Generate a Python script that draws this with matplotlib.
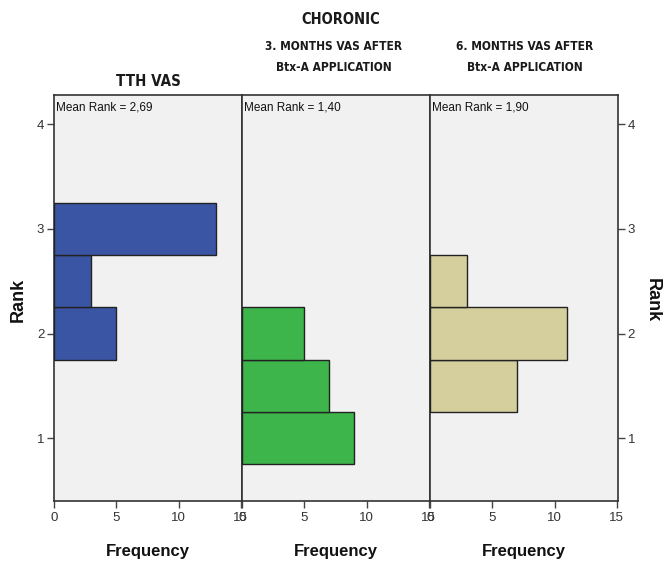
import matplotlib
matplotlib.use("Agg")
import matplotlib.pyplot as plt

# Data
rank_bins = [1.0, 1.5, 2.0, 2.5, 3.0]
freq_tth = [0, 0, 5, 3, 13]
freq_3m = [9, 7, 5, 0, 0]
freq_6m = [0, 7, 11, 3, 0]
panel_titles = ["TTH VAS", "3. MONTHS VAS AFTER\nBtx-A APPLICATION", "6. MONTHS VAS AFTER\nBtx-A APPLICATION"]
mean_labels = ["Mean Rank = 2,69", "Mean Rank = 1,40", "Mean Rank = 1,90"]
super_title = "CHORONIC"
colors = ["#3B55A5", "#3DB54A", "#D4CF9C"]
x_ticks = [0, 5, 10, 15]
y_ticks = [1, 2, 3, 4]

W, H = 664, 565
fig = plt.figure(figsize=(W / 100, H / 100), dpi=100)
fig.patch.set_facecolor("white")

left, top, bottom = 54, 95, 501
pw = 188
title_font = dict(family=["DejaVu Sans"], fontstretch="condensed", fontweight="bold", color="#1a1a1a")
tick_font = ["Liberation Sans", "DejaVu Sans"]

series = [freq_tth, freq_3m, freq_6m]
axes = []
for i, freqs in enumerate(series):
    ax = fig.add_axes([(left + i * pw) / W, 1 - bottom / H, pw / W, (bottom - top) / H])
    axes.append(ax)
    ax.set_facecolor("#F0F1F0")
    rb = [r for r, f in zip(rank_bins, freqs) if f > 0]
    fv = [f for f in freqs if f > 0]
    ax.barh(rb, fv, height=0.5, left=0, color=colors[i], edgecolor="#222222", linewidth=1.0, zorder=3)
    ax.set_xlim(0, 15.1)
    ax.set_ylim(0.4, 4.28)
    ax.set_xticks(x_ticks)
    ax.set_xticklabels([str(t) for t in x_ticks], fontfamily=tick_font, fontsize=9.5, color="#333333")
    ax.tick_params(axis="x", direction="out", length=5, width=1, color="#444444", pad=3)
    for s in ax.spines.values():
        s.set_color("#333333")
        s.set_linewidth(1.2)
    if i == 0:
        ax.set_yticks(y_ticks)
        ax.set_yticklabels([str(t) for t in y_ticks], fontfamily=tick_font, fontsize=9.5, color="#333333")
        ax.tick_params(axis="y", direction="out", length=5, width=1, color="#444444", pad=2)
    elif i == 2:
        ax.yaxis.tick_right()
        ax.set_yticks(y_ticks)
        ax.set_yticklabels([str(t) for t in y_ticks], fontfamily=tick_font, fontsize=9.5, color="#333333")
        ax.tick_params(axis="y", direction="out", length=5, width=1, color="#444444", pad=2)
    else:
        ax.set_yticks([])
    ax.text(0.01, 0.985, mean_labels[i], transform=ax.transAxes, ha="left", va="top",
            fontfamily=tick_font, fontsize=8.5, color="#111111")
    ax.set_xlabel("Frequency", fontfamily=tick_font, fontsize=12, fontweight="bold", labelpad=14, color="#111111")

# Titles
fig.text((left + 0.5 * pw) / W, 1 - 82 / H, panel_titles[0], ha="center", va="center", fontsize=10.8, **title_font)
fig.text(334 / W, 1 - 57 / H, panel_titles[1], ha="center", va="center", fontsize=8.6,
         linespacing=1.75, **title_font)
fig.text(525 / W, 1 - 57 / H, panel_titles[2], ha="center", va="center", fontsize=8.6,
         linespacing=1.75, **title_font)
fig.text(341 / W, 1 - 20 / H, super_title, ha="center", va="center", fontsize=10.5, **title_font)

# Rank labels
fig.text(18 / W, 1 - 300 / H, "Rank", rotation=90, ha="center", va="center",
         fontfamily=tick_font, fontsize=13, fontweight="bold", color="#111111")
fig.text(652 / W, 1 - 300 / H, "Rank", rotation=-90, ha="center", va="center",
         fontfamily=tick_font, fontsize=13, fontweight="bold", color="#111111")

fig.savefig("out.png", dpi=100)
